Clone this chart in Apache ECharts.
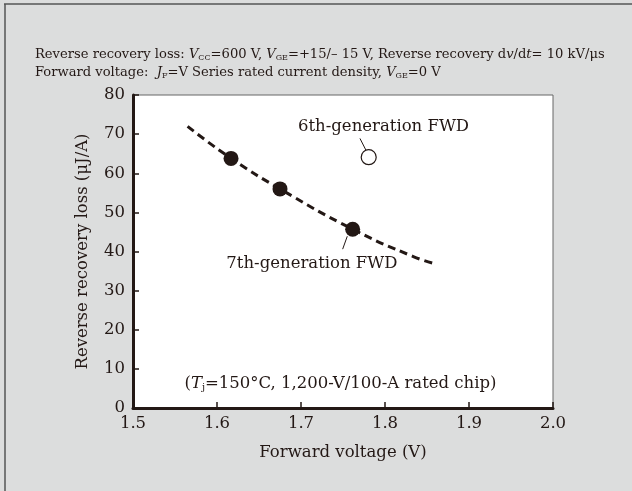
<!DOCTYPE html>
<html><head><meta charset="utf-8">
<script src="https://cdn.jsdelivr.net/npm/echarts@6/dist/echarts.min.js"></script>
<style>html,body{margin:0;padding:0;background:#dcdddd}#c{width:632px;height:491px}</style>
</head><body><div id="c"></div>
<script>
var xTicks = [1.5, 1.6, 1.7, 1.8, 1.9, 2.0];
var yTicks = [0, 10, 20, 30, 40, 50, 60, 70, 80];
var gen7Points = [[1.6167, 63.8], [1.675, 56.0], [1.7615, 45.7]];
var gen6Points = [[1.7806, 64.1]];
var gen7Trend = [[1.565, 72.0], [1.6167, 63.8], [1.675, 56.0], [1.7615, 45.7], [1.8337, 38.7], [1.8607, 36.8]];
var gen6Leader = [[1.7702, 68.9], [1.778, 65.6]];
var gen7Leader = [[1.7551, 43.9], [1.7496, 40.6]];

var FONT = 'DejaVu Serif';
var TXT = '#231815';
var chart = echarts.init(document.getElementById('c'), null, {renderer: 'canvas'});
var option = {
  backgroundColor: '#dcdddd',
  animation: false,
  grid: {left: 133, right: 79, top: 95, bottom: 83, show: true, backgroundColor: '#ffffff', borderColor: '#666', borderWidth: 1},
  xAxis: {
    type: 'value', min: xTicks[0], max: xTicks[xTicks.length - 1], interval: 0.1,
    axisLine: {show: true, onZero: false, lineStyle: {color: TXT, width: 3}},
    axisTick: {show: true, inside: true, length: 6, lineStyle: {color: TXT, width: 1.5}},
    axisLabel: {color: TXT, fontFamily: FONT, fontSize: 16.5, margin: 7, formatter: function (v) { return v.toFixed(1); }},
    splitLine: {show: false},
    name: 'Forward voltage (V)', nameLocation: 'middle', nameGap: 36,
    nameTextStyle: {color: TXT, fontFamily: FONT, fontSize: 16.5}
  },
  yAxis: {
    type: 'value', min: yTicks[0], max: yTicks[yTicks.length - 1], interval: 10,
    axisLine: {show: true, onZero: false, lineStyle: {color: TXT, width: 3}},
    axisTick: {show: true, inside: true, length: 6, lineStyle: {color: TXT, width: 1.5}},
    axisLabel: {color: TXT, fontFamily: FONT, fontSize: 16.5, margin: 8},
    splitLine: {show: false},
    name: 'Reverse recovery loss (\u03bcJ/A)', nameLocation: 'middle', nameGap: 42,
    nameTextStyle: {color: TXT, fontFamily: FONT, fontSize: 16.5}
  },
  series: [
    {type: 'line', data: gen7Trend, smooth: true, symbol: 'none', z: 2,
     lineStyle: {color: TXT, width: 3, type: [8, 5]}},
    {type: 'scatter', data: gen7Points, symbol: 'circle', symbolSize: 15, z: 3,
     itemStyle: {color: TXT, opacity: 1}},
    {type: 'scatter', data: gen6Points, symbol: 'circle', symbolSize: 15, z: 3,
     itemStyle: {color: '#ffffff', borderColor: TXT, borderWidth: 1.2, opacity: 1}},
    {type: 'line', data: gen6Leader, symbol: 'none', z: 2, lineStyle: {color: TXT, width: 1}},
    {type: 'line', data: gen7Leader, symbol: 'none', z: 2, lineStyle: {color: TXT, width: 1}}
  ]
};
chart.setOption(option);

function px(p) { return chart.convertToPixel({gridIndex: 0}, p); }
var hdrRich = {
  n: {fontFamily: FONT, fontSize: 13.1, fill: TXT},
  i: {fontFamily: FONT, fontSize: 13.1, fontStyle: 'italic', fill: TXT},
  s: {fontFamily: FONT, fontSize: 8, fill: TXT, verticalAlign: 'bottom', padding: [4, 0, 0, 0]}
};
var p6 = px([1.6964, 71.8]);
var p7 = px([1.713, 36.8]);
var pc = px([1.747, 6.1]);
chart.setOption({
  graphic: [
    {type: 'line', shape: {x1: 4, y1: 4, x2: 632, y2: 4}, style: {stroke: '#555', lineWidth: 1.5}},
    {type: 'line', shape: {x1: 5, y1: 4, x2: 5, y2: 491}, style: {stroke: '#555', lineWidth: 1.5}},
    {type: 'text', x: 35, y: 55, style: {
      text: '{n|Reverse recovery loss: }{i|V}{s|CC}{n|=600 V, }{i|V}{s|GE}{n|=+15/\u2013 15 V, Reverse recovery d}{i|v}{n|/d}{i|t}{n|= 10 kV/\u03bcs}',
      rich: hdrRich, verticalAlign: 'middle'}},
    {type: 'text', x: 35, y: 73, style: {
      text: '{n|Forward voltage:  }{i|J}{s|F}{n|=V Series rated current density, }{i|V}{s|GE}{n|=0 V}',
      rich: hdrRich, verticalAlign: 'middle'}},
    {type: 'text', x: p6[0], y: p6[1], style: {text: '6th-generation FWD', fontFamily: FONT, fontSize: 16.5, fill: TXT, verticalAlign: 'middle'}},
    {type: 'text', x: p7[0], y: p7[1], style: {text: '7th-generation FWD', fontFamily: FONT, fontSize: 16.5, fill: TXT, align: 'center', verticalAlign: 'middle'}},
    {type: 'text', x: pc[0], y: pc[1], style: {
      text: '{n|(}{i|T}{s|j}{n|=150\u00b0C, 1,200-V/100-A rated chip)}',
      rich: {n: {fontFamily: FONT, fontSize: 16.5, fill: TXT}, i: {fontFamily: FONT, fontSize: 16.5, fontStyle: 'italic', fill: TXT}, s: {fontFamily: FONT, fontSize: 10, fill: TXT, verticalAlign: 'bottom', padding: [5, 0, 0, 0]}},
      align: 'center', verticalAlign: 'middle'}}
  ]
});
</script></body></html>
